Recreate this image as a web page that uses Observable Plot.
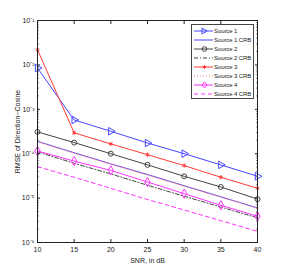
<!DOCTYPE html>
<html><head><meta charset="utf-8">
<script src="https://cdn.jsdelivr.net/npm/d3@7"></script>
<script src="https://cdn.jsdelivr.net/npm/@observablehq/plot@0.6"></script>
<style>
body{margin:0;background:#fff;}
#wrap{position:relative;width:284px;height:273px;font-family:"Liberation Sans",Arial,sans-serif;}
#legend{position:absolute;left:191px;top:24px;width:63px;height:75px;border:1px solid #444;background:#fff;font-size:6px;letter-spacing:-0.1px;color:#222;box-sizing:border-box;padding-top:1px;overflow:hidden;}
#legend .row{height:9px;display:flex;align-items:center;white-space:nowrap;}
#legend svg{margin-left:2px;margin-right:1px;flex:none;}
</style>
</head><body><div id="wrap"></div>
<script>
const snr = [10, 15, 20, 25, 30, 35, 40];
const source1    = [8.5e-3, 5.75e-4, 3.2e-4, 1.74e-4, 1.0e-4, 5.6e-5, 3.1e-5];
const source1CRB = [1.9e-4, 1.05e-4, 5.9e-5, 3.4e-5, 1.9e-5, 1.07e-5, 6.0e-6];
const source2    = [3.1e-4, 1.78e-4, 1.0e-4, 5.6e-5, 3.1e-5, 1.78e-5, 9.5e-6];
const source2CRB = [1.1e-4, 6.1e-5, 3.5e-5, 1.95e-5, 1.1e-5, 6.3e-6, 3.6e-6];
const source3    = [2.2e-2, 2.95e-4, 1.66e-4, 9.5e-5, 5.4e-5, 2.95e-5, 1.66e-5];
const source3CRB = [1.86e-4, 1.03e-4, 5.8e-5, 3.3e-5, 1.86e-5, 1.05e-5, 5.9e-6];
const source4    = [1.15e-4, 6.8e-5, 4.2e-5, 2.3e-5, 1.26e-5, 6.9e-6, 3.9e-6];
const source4CRB = [5.1e-5, 2.95e-5, 1.66e-5, 9.3e-6, 5.4e-6, 3.1e-6, 1.78e-6];
const xTicks = [10, 15, 20, 25, 30, 35, 40];
const yTicks = [1e-6, 1e-5, 1e-4, 1e-3, 1e-2, 1e-1];
const yTickLabels = ["10⁻⁶", "10⁻⁵", "10⁻⁴", "10⁻³", "10⁻²", "10⁻¹"];
const seriesNames = ["Source 1", "Source 1 CRB", "Source 2", "Source 2 CRB", "Source 3", "Source 3 CRB", "Source 4", "Source 4 CRB"];

const series = [
  {name: seriesNames[0], values: source1,    color: "#4646ff", dash: null,      symbol: "triangle", rotate: 90, r: 2.8},
  {name: seriesNames[1], values: source1CRB, color: "#4646ff", dash: null,      symbol: null},
  {name: seriesNames[2], values: source2,    color: "#444444", dash: null,      symbol: "circle", r: 2.5},
  {name: seriesNames[3], values: source2CRB, color: "#444444", dash: "4,2,1,2", symbol: null},
  {name: seriesNames[4], values: source3,    color: "#ff3a3a", dash: null,      symbol: "asterisk", r: 2},
  {name: seriesNames[5], values: source3CRB, color: "#ff8080", dash: "1,2",     symbol: null},
  {name: seriesNames[6], values: source4,    color: "#ff33ff", dash: null,      symbol: "diamond", r: 2.8},
  {name: seriesNames[7], values: source4CRB, color: "#ff33ff", dash: "4,3",     symbol: null}
];

const minorTicks = [];
for (const d of yTicks.slice(0, -1)) for (const k of [2,3,4,5,6,7,8,9]) minorTicks.push(d * k);

const marks = [];
for (const s of series) {
  const rows = snr.map((x, i) => ({x, y: s.values[i]}));
  marks.push(Plot.line(rows, {x: "x", y: "y", stroke: s.color, strokeWidth: 1, strokeDasharray: s.dash}));
  if (s.symbol) marks.push(Plot.dot(rows, {x: "x", y: "y", stroke: s.color, fill: "none", symbol: s.symbol, r: s.r, rotate: s.rotate || 0, strokeWidth: 1}));
}

const chart = Plot.plot({
  width: 284, height: 273,
  marginLeft: 37, marginRight: 27, marginTop: 20, marginBottom: 31,
  style: {fontFamily: "Liberation Sans, Arial, sans-serif", fontSize: "7px", color: "#222", background: "#fff"},
  x: {domain: [10, 40]},
  y: {type: "log", domain: [1e-6, 1e-1]},
  marks: [
    ...marks,
    Plot.frame({stroke: "#222", strokeWidth: 1}),
    Plot.axisX({ticks: xTicks, tickSize: -3, tickFormat: () => "", label: null}),
    Plot.axisX({ticks: xTicks, anchor: "top", tickSize: -3, tickFormat: () => "", label: null}),
    Plot.axisX({ticks: xTicks, tickSize: 0, tickPadding: 5, tickFormat: d => String(d), label: "SNR, in dB", labelAnchor: "center", labelArrow: "none", labelOffset: 20}),
    Plot.axisY({ticks: yTicks, tickSize: -3, tickFormat: () => "", label: null}),
    Plot.axisY({ticks: yTicks, anchor: "right", tickSize: -3, tickFormat: () => "", label: null}),
    Plot.axisY({ticks: minorTicks, tickSize: -1.5, tickFormat: () => "", label: null}),
    Plot.axisY({ticks: minorTicks, anchor: "right", tickSize: -1.5, tickFormat: () => "", label: null}),
    Plot.axisY({ticks: yTicks, tickSize: 0, tickPadding: 3, tickFormat: d => yTickLabels[yTicks.indexOf(d)], label: "RMSE of Direction−Cosine", labelAnchor: "center", labelArrow: "none", labelOffset: 22})
  ]
});
const wrap = document.getElementById("wrap");
wrap.appendChild(chart);

// legend
const legend = document.createElement("div");
legend.id = "legend";
for (const s of series) {
  const row = document.createElement("div");
  row.className = "row";
  let sym = "";
  if (s.symbol === "triangle") sym = `<path d="M8,7 L8,1 L13,4 Z" fill="none" stroke="${s.color}"/>`;
  if (s.symbol === "circle") sym = `<circle cx="10.5" cy="4" r="2.3" fill="none" stroke="${s.color}"/>`;
  if (s.symbol === "asterisk") sym = `<path d="M10.5,2 V6 M8.8,3 L12.2,5 M8.8,5 L12.2,3" stroke="${s.color}"/>`;
  if (s.symbol === "diamond") sym = `<path d="M10.5,1 L13,4 L10.5,7 L8,4 Z" fill="none" stroke="${s.color}"/>`;
  row.innerHTML = `<svg width="19" height="8"><line x1="0" x2="19" y1="4" y2="4" stroke="${s.color}" stroke-width="1" ${s.dash ? `stroke-dasharray="${s.dash}"` : ""}/>${sym}</svg><span>${s.name}</span>`;
  legend.appendChild(row);
}
wrap.appendChild(legend);
</script>
</body></html>
